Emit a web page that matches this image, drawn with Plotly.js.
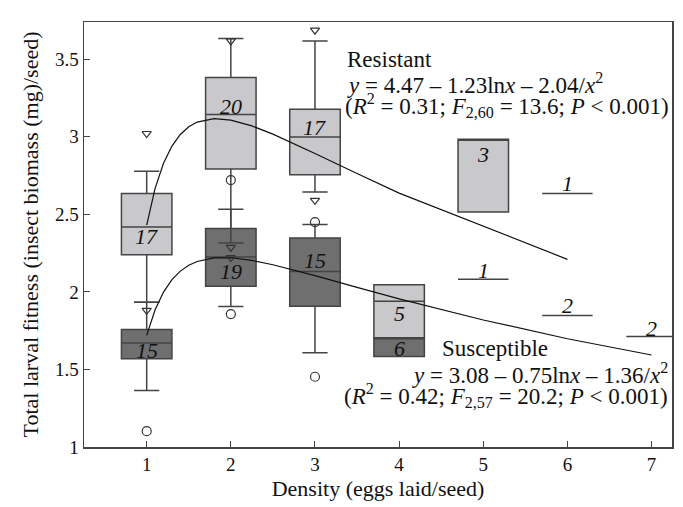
<!DOCTYPE html>
<html><head><meta charset="utf-8">
<script src="https://cdn.plot.ly/plotly-3.0.1.min.js"></script>
<style>html,body{margin:0;padding:0;background:#fff}</style>
</head><body><div id="chart" style="width:683px;height:507px"></div>
<script>
// Resistant boxes
const resX   = [1, 2, 3, 4, 5, 6];
const resQ1  = [2.240, 2.792, 2.756, 1.705, 2.515, 2.634];
const resMed = [2.418, 3.143, 2.999, 1.939, 2.984, 2.634];
const resQ3  = [2.634, 3.382, 3.177, 2.046, 2.984, 2.634];
const resLo  = [1.934, 2.315, 2.644, 1.705, 2.515, 2.634];
const resHi  = [2.777, 3.634, 3.618, 2.046, 2.984, 2.634];
const resN   = ['17', '20', '17', '5', '3', '1'];
// Susceptible boxes
const susX   = [1, 2, 3, 4, 5, 6, 7];
const susQ1  = [1.569, 2.037, 1.908, 1.584, 2.081, 1.848, 1.713];
const susMed = [1.670, 2.225, 2.132, 1.705, 2.081, 1.848, 1.713];
const susQ3  = [1.758, 2.408, 2.347, 1.705, 2.081, 1.848, 1.713];
const susLo  = [1.365, 1.906, 1.608, 1.584, 2.081, 1.848, 1.713];
const susHi  = [1.934, 2.532, 2.434, 1.705, 2.081, 1.848, 1.713];
const susN   = ['15', '19', '15', '6', '1', '2', '2'];
// extreme values
const triX = [1, 1, 2, 2, 2, 3, 3];
const triY = [3.021, 1.881, 3.618, 2.287, 2.221, 3.687, 2.590];
const cirX = [1, 2, 2, 3, 3];
const cirY = [1.102, 2.721, 1.857, 2.450, 1.453];
// fitted curves
const resCurveX = [1, 1.1, 1.2, 1.3, 1.4, 1.5, 1.6, 1.8, 2, 2.25, 2.5, 2.75, 3, 3.5, 4, 6];
const resCurveY = [2.43, 2.667, 2.829, 2.940, 3.015, 3.065, 3.095, 3.117, 3.107, 3.070, 3.017, 2.956, 2.892, 2.763, 2.637, 2.21];
const susCurveX = [1, 1.1, 1.2, 1.3, 1.4, 1.5, 1.6, 1.8, 2, 2.25, 2.5, 2.75, 3, 3.5, 4, 5, 6, 7];
const susCurveY = [1.72, 1.885, 1.999, 2.079, 2.134, 2.172, 2.196, 2.219, 2.220, 2.203, 2.175, 2.142, 2.105, 2.029, 1.955, 1.819, 1.698, 1.593];
// n label positions (value axis)
const resNY = [2.354, 3.197, 3.063, 1.859, 2.887, 2.698];
const susNY = [1.623, 2.134, 2.203, 1.634, 2.139, 1.913, 1.763];

const FONT = 'Liberation Serif, Times New Roman, serif';
const edge = '#444';

const traces = [
  {type:'box', x:susX, q1:susQ1, median:susMed, q3:susQ3, lowerfence:susLo, upperfence:susHi,
   width:0.6, whiskerwidth:0.5, fillcolor:'#6f6f70', line:{color:edge, width:1.5}, boxpoints:false, hoverinfo:'skip', showlegend:false},
  {type:'box', x:resX, q1:resQ1, median:resMed, q3:resQ3, lowerfence:resLo, upperfence:resHi,
   width:0.6, whiskerwidth:0.5, fillcolor:'#c9c9cb', line:{color:edge, width:1.5}, boxpoints:false, hoverinfo:'skip', showlegend:false},
  {type:'scatter', mode:'lines', x:resCurveX, y:resCurveY, line:{color:'#111', width:1.2}, showlegend:false, hoverinfo:'skip'},
  {type:'scatter', mode:'lines', x:susCurveX, y:susCurveY, line:{color:'#111', width:1.2}, showlegend:false, hoverinfo:'skip'},
  {type:'scatter', mode:'markers', x:triX, y:triY, marker:{symbol:'triangle-down-open', size:8, color:'#333', line:{width:1.2}}, showlegend:false, hoverinfo:'skip'},
  {type:'scatter', mode:'markers', x:cirX, y:cirY, marker:{symbol:'circle-open', size:9, color:'#333', line:{width:1.2}}, showlegend:false, hoverinfo:'skip'}
];

const ann = [];
resX.forEach((x,i)=>ann.push({x:x, y:resNY[i], xref:'x', yref:'y', text:'<i>'+resN[i]+'</i>', showarrow:false, font:{family:FONT, size:22, color:'#111'}}));
susX.forEach((x,i)=>ann.push({x:x, y:susNY[i], xref:'x', yref:'y', text:'<i>'+susN[i]+'</i>', showarrow:false, font:{family:FONT, size:22, color:'#111'}}));
const tf = {family:FONT, size:23, color:'#111'};
ann.push({x:3.38, y:3.500, xanchor:'left', xshift:-2, text:'Resistant', showarrow:false, font:tf});
ann.push({x:3.38, y:3.345, xanchor:'left', xshift:-2, text:'<i>y</i> = 4.47 – 1.23ln<i>x</i> – 2.04/<i>x</i><sup>2</sup>', showarrow:false, font:tf});
ann.push({x:3.38, y:3.203, xanchor:'left', xshift:-4, text:'(<i>R</i><sup>2</sup> = 0.31; <i>F</i><sub>2,60</sub> = 13.6; <i>P</i> < 0.001)', showarrow:false, font:tf});
ann.push({x:4.509, y:1.635, xanchor:'left', xshift:-2, text:'Susceptible', showarrow:false, font:tf});
ann.push({x:7.195, y:1.474, xanchor:'right', xshift:2, text:'<i>y</i> = 3.08 – 0.75ln<i>x</i> – 1.36/<i>x</i><sup>2</sup>', showarrow:false, font:tf});
ann.push({x:7.195, y:1.332, xanchor:'right', xshift:2, text:'(<i>R</i><sup>2</sup> = 0.42; <i>F</i><sub>2,57</sub> = 20.2; <i>P</i> < 0.001)', showarrow:false, font:tf});

const layout = {
  width:683, height:507,
  margin:{l:84, r:11, t:22, b:60},
  paper_bgcolor:'#fff', plot_bgcolor:'#fff',
  boxmode:'overlay',
  font:{family:FONT, color:'#111'},
  xaxis:{range:[0.255, 7.243], tickvals:[1,2,3,4,5,6,7], ticks:'inside', ticklen:6, tickcolor:edge,
         showline:true, linecolor:edge, linewidth:1.5, mirror:true, showgrid:false, zeroline:false,
         tickfont:{family:FONT, size:19, color:'#111'},
         title:{text:'Density (eggs laid/seed)', font:{family:FONT, size:22, color:'#111'}, standoff:6}},
  yaxis:{range:[1, 3.74], tickvals:[1,1.5,2,2.5,3,3.5], ticktext:['1','1.5','2','2.5','3','3.5'], ticks:'inside', ticklen:6, tickcolor:edge,
         showline:true, linecolor:edge, linewidth:1.5, mirror:true, showgrid:false, zeroline:false,
         tickfont:{family:FONT, size:19, color:'#111'},
         title:{text:'Total larval fitness (insect biomass (mg)/seed)', font:{family:FONT, size:22, color:'#111'}, standoff:10}},
  annotations:ann
};
Plotly.newPlot('chart', traces, layout, {displayModeBar:false, staticPlot:true});
</script></body></html>
